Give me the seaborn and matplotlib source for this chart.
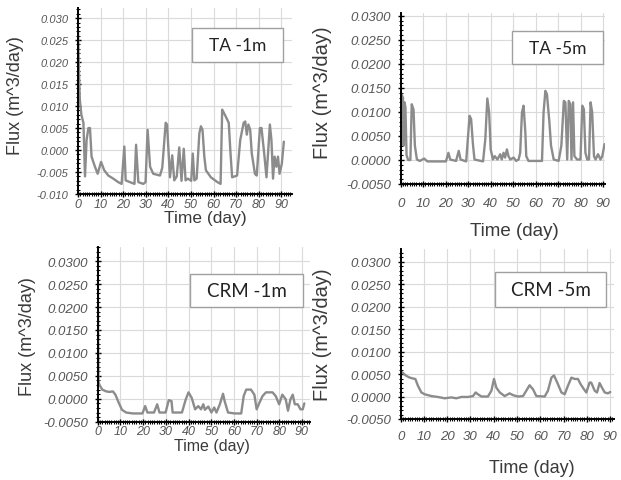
import numpy as np
import seaborn as sns
import matplotlib
matplotlib.use("Agg")
import matplotlib.pyplot as plt
from matplotlib.ticker import MultipleLocator, FuncFormatter
from matplotlib.patches import Rectangle

# ---- data (time in days, flux in m^3/day) ----
TA_1M_T = [0, 0.3, 0.8, 1.5, 2.4, 3.1, 3.8, 4.6, 5.3, 6.0, 7.5, 8.7, 10.2, 11.6,
           13.4, 15.6, 17.8, 19.3, 20.5, 21.1, 23.0, 25.0, 25.7, 26.7, 28.9,
           29.9, 30.8, 31.9, 33.3, 36.3, 37.3, 38.8, 39.4, 40.7, 41.7, 42.6,
           43.7, 44.8, 45.8, 46.8, 47.6, 48.6, 50.1, 50.8, 51.5, 52.5, 53.7,
           54.4, 55.1, 55.9, 56.6, 58.8, 61.7, 63.1, 63.8, 65.3, 66.7, 67.5,
           68.2, 70.4, 71.8, 73.3, 74.0, 74.7, 75.4, 76.2, 76.9, 78.3, 79.1,
           80.5, 81.2, 82.4, 83.4, 84.1, 84.9, 85.6, 86.3, 87.0, 87.8, 88.5,
           89.2, 90.2, 91.1]
TA_1M_Q = [0.0270, 0.0200, 0.0115, 0.0080, 0.0062, -0.0060, 0.0023, 0.0050,
           0.0050, -0.0015, -0.0038, -0.0054, -0.0027, -0.0046, -0.0058,
           -0.0065, -0.0073, -0.0077, 0.0008, -0.0069, -0.0073, -0.0077,
           0.0012, -0.0073, -0.0077, -0.0073, 0.0046, -0.0038, -0.0054,
           -0.0058, -0.0040, 0.0062, 0.0058, -0.0062, -0.0012, -0.0069,
           -0.0060, 0.0006, -0.0070, 0.0003, -0.0069, -0.0065, -0.0070,
           -0.0008, -0.0069, -0.0065, 0.0038, 0.0054, 0.0046, -0.0015,
           -0.0046, -0.0062, -0.0073, -0.0077, 0.0092, 0.0077, 0.0062,
           -0.0008, -0.0062, -0.0058, 0.0023, 0.0062, 0.0065, 0.0035, 0.0058,
           0.0046, -0.0008, -0.0054, -0.0058, 0.0050, 0.0050, -0.0008,
           -0.0062, -0.0008, 0.0058, 0.0023, -0.0065, -0.0015, -0.0038,
           -0.0015, -0.0054, -0.0031, 0.0019]

TA_5M_T = [0, 0.5, 1.0, 1.3, 1.7, 2.1, 2.6, 3.3, 4.3, 4.9, 5.7, 6.3, 7.2, 8.5,
           9.7, 10.4, 11.9, 20.1, 21.2, 22.0, 24.6, 25.8, 26.6, 29.1, 30.6,
           31.3, 32.1, 32.8, 36.6, 37.6, 38.5, 39.3, 40.0, 41.0, 41.8, 43.0,
           44.2, 44.9, 45.7, 46.4, 47.2, 47.9, 48.7, 50.2, 51.3, 52.4, 53.1,
           53.9, 54.6, 55.4, 55.8, 56.8, 62.8, 63.5, 64.3, 65.0, 66.1, 66.8,
           68.0, 70.2, 71.4, 72.5, 73.2, 74.0, 74.7, 75.4, 75.9, 76.6, 77.2,
           78.4, 79.9, 80.7, 81.4, 82.1, 82.9, 83.7, 84.4, 85.1, 85.9, 86.6,
           87.7, 88.8, 89.6, 90.6]
TA_5M_Q = [0.0140, 0.0135, 0.0130, 0.0030, 0.0120, 0.0110, 0.0010, 0.0000,
           0.0000, 0.0116, 0.0105, 0.0030, 0.0001, -0.0002, 0.0001, 0.0003,
           -0.0003, -0.0003, 0.0015, 0.0001, -0.0002, 0.0019, 0.0001,
           -0.0003, 0.0092, 0.0085, 0.0033, 0.0001, -0.0003, 0.0043, 0.0128,
           0.0099, 0.0022, 0.0001, 0.0008, 0.0001, 0.0012, 0.0001, 0.0015,
           0.0005, 0.0022, 0.0008, 0.0001, 0.0005, -0.0002, 0.0001, 0.0015,
           0.0099, 0.0113, 0.0057, 0.0008, -0.0002, -0.0002, 0.0099, 0.0144,
           0.0137, 0.0078, 0.0030, 0.0001, -0.0002, 0.0030, 0.0123, 0.0120,
           0.0001, 0.0123, 0.0116, 0.0001, 0.0120, 0.0008, 0.0001, 0.0001,
           0.0113, 0.0106, 0.0015, 0.0001, 0.0001, 0.0120, 0.0099, 0.0008,
           0.0001, 0.0012, 0.0001, 0.0008, 0.0033]

CRM_1M_T = [0, 0.3, 0.7, 2.0, 3.8, 5.2, 6.7, 7.8, 9.3, 10.7, 12.5, 15.4, 19.7,
            20.9, 21.9, 24.8, 26.2, 27.2, 29.9, 31.3, 32.5, 33.0, 37.1, 38.8,
            40.0, 41.4, 42.9, 44.3, 45.5, 46.5, 47.2, 48.7, 50.1, 51.3, 52.3,
            53.8, 55.2, 55.9, 57.4, 60.3, 63.2, 64.3, 65.4, 67.5, 69.0, 70.0,
            71.2, 72.6, 74.1, 77.0, 78.4, 79.9, 81.3, 82.8, 83.8, 84.9, 85.9,
            86.8, 88.1, 89.3, 90.3, 91.0]
CRM_1M_Q = [0.0300, 0.0040, 0.0031, 0.0020, 0.0016, 0.0015, 0.0016, 0.0009,
            -0.0009, -0.0024, -0.0030, -0.0032, -0.0032, -0.0016, -0.0030,
            -0.0030, -0.0012, -0.0030, -0.0030, -0.0003, -0.0005, -0.0030,
            -0.0030, -0.0001, 0.0014, 0.0002, -0.0023, -0.0016, -0.0023,
            -0.0012, -0.0024, -0.0017, -0.0030, -0.0019, -0.0030, -0.0012,
            0.0011, -0.0005, -0.0030, -0.0032, -0.0032, 0.0006, 0.0020,
            0.0020, 0.0009, -0.0023, -0.0009, 0.0006, 0.0014, 0.0014, 0.0006,
            -0.0012, 0.0009, -0.0001, -0.0026, -0.0001, 0.0009, -0.0012,
            -0.0012, -0.0023, -0.0023, -0.0010]

CRM_5M_T = [0, 1.0, 2.4, 3.9, 5.3, 6.3, 7.4, 8.9, 10.3, 13.2, 16.0, 18.9, 21.8,
            23.9, 26.1, 28.9, 31.1, 32.2, 33.2, 34.7, 37.5, 39.0, 40.1, 41.1,
            42.6, 44.7, 46.8, 48.3, 50.4, 52.6, 54.0, 55.4, 56.9, 58.3, 61.9,
            63.3, 64.8, 65.9, 67.3, 69.1, 70.5, 71.9, 73.4, 74.8, 76.2, 77.4,
            78.8, 79.8, 81.2, 81.9, 83.4, 84.4, 85.5, 86.5, 87.7, 89.1, 90.1]
CRM_5M_Q = [0.0057, 0.0052, 0.0046, 0.0042, 0.0040, 0.0039, 0.0024, 0.0009,
            0.0005, 0.0001, -0.0001, -0.0004, -0.0002, -0.0004, -0.0001,
            -0.0001, 0.0001, 0.0009, 0.0005, 0.0000, 0.0000, 0.0013, 0.0039,
            0.0020, 0.0009, 0.0001, 0.0007, 0.0003, 0.0000, 0.0001, 0.0013,
            0.0025, 0.0016, 0.0001, 0.0000, 0.0013, 0.0042, 0.0047, 0.0031,
            0.0009, 0.0005, 0.0024, 0.0042, 0.0039, 0.0039, 0.0027, 0.0016,
            0.0009, 0.0031, 0.0031, 0.0013, 0.0009, 0.0030, 0.0020, 0.0009,
            0.0007, 0.0010]

LABELS = ["TA -1m", "TA -5m", "CRM -1m", "CRM -5m"]
X_TICKS = [0, 10, 20, 30, 40, 50, 60, 70, 80, 90]
Y_TICKS_TA1 = [-0.010, -0.005, 0.000, 0.005, 0.010, 0.015, 0.020, 0.025, 0.030]
Y_TICKS = [-0.005, 0.000, 0.005, 0.010, 0.015, 0.020, 0.025, 0.030]

W, H = 621, 481
LINE = "#8c8c8c"
GRID = "#dadada"
TICK_TXT = "#555555"
LABEL_TXT = "#3a3a3a"

sns.set_style("white")
plt.rcParams["font.family"] = ["Liberation Sans", "DejaVu Sans"]
plt.rcParams["axes.unicode_minus"] = False


def fig_rect(left, top, right, bottom):
    return [left / W, 1 - bottom / H, (right - left) / W, (bottom - top) / H]


def draw_panel(fig, times, flux, label, cfg):
    ax = fig.add_axes(fig_rect(*cfg["rect"]))
    sns.lineplot(x=times, y=flux, ax=ax, color=LINE, linewidth=1.7,
                 estimator=None, sort=False, zorder=3)

    ax.set_xlim(*cfg["xlim"])
    ax.set_ylim(*cfg["ylim"])
    ax.set_xticks(X_TICKS)
    ax.set_yticks(cfg["yticks"])
    ax.xaxis.set_minor_locator(MultipleLocator(1))
    ax.yaxis.set_minor_locator(MultipleLocator(0.001))
    dec = cfg["dec"]
    ax.yaxis.set_major_formatter(
        FuncFormatter(lambda v, _: f"{round(v, 6) + 0.0:.{dec}f}"))

    ax.grid(True, which="major", color=GRID, linewidth=0.8, zorder=0)
    for side in ("top", "right"):
        ax.spines[side].set_visible(False)
    for side in ("left", "bottom"):
        ax.spines[side].set_color("black")
        ax.spines[side].set_linewidth(1.4)
        ax.spines[side].set_zorder(4)

    ax.tick_params(which="both", bottom=True, left=True, top=False,
                   right=False, color="black")
    ax.tick_params(which="major", direction="inout", length=4.5, width=1)
    ax.tick_params(which="minor", direction="inout", length=2.8, width=0.8)
    ax.tick_params(axis="x", which="major", pad=cfg["xpad"],
                   labelsize=cfg["xts"], labelcolor=TICK_TXT)
    ax.tick_params(axis="y", which="major", pad=cfg["ypad"],
                   labelsize=cfg["yts"], labelcolor=TICK_TXT)
    for t in ax.get_xticklabels() + ax.get_yticklabels():
        t.set_fontstyle("italic")

    ax.set_xlabel("Time (day)", fontsize=cfg["tfs"], color=LABEL_TXT)
    ax.set_ylabel("Flux (m^3/day)", fontsize=cfg["ffs"], color=LABEL_TXT)
    tx, ty = cfg["tpos"]
    fx, fy = cfg["fpos"]
    ax.xaxis.set_label_coords(tx / W, 1 - ty / H, transform=fig.transFigure)
    ax.yaxis.set_label_coords(fx / W, 1 - fy / H, transform=fig.transFigure)
    ax.xaxis.label.set_va("center")
    ax.yaxis.label.set_va("center")

    bx0, by0, bx1, by1 = cfg["box"]
    fig.add_artist(Rectangle((bx0 / W, 1 - by1 / H), (bx1 - bx0) / W,
                             (by1 - by0) / H, transform=fig.transFigure,
                             facecolor="white", edgecolor="#a0a0a0",
                             linewidth=1.0, zorder=5))
    fig.text((bx0 + bx1) / 2 / W, 1 - (by0 + by1) / 2 / H, label,
             ha="center", va="center", fontsize=cfg["bfs"], color="#222222",
             family=["Lato", "DejaVu Sans"], zorder=6)
    return ax


panel_cfg = [
    dict(rect=(78, 9, 292, 195), xlim=(0, 94.7), ylim=(-0.010, 0.0323),
         yticks=Y_TICKS_TA1, dec=3, xpad=0.5, ypad=4.5, xts=9, yts=8,
         tfs=12.5, ffs=13, tpos=(205, 219), fpos=(16, 96),
         box=(192, 29, 283, 63), bfs=12.5),
    dict(rect=(400.7, 14, 605, 185), xlim=(0, 90.8), ylim=(-0.005, 0.0306),
         yticks=Y_TICKS, dec=4, xpad=7, ypad=4.5, xts=9.5, yts=9.5,
         tfs=13.5, ffs=14.5, tpos=(514, 231), fpos=(322, 93),
         box=(512, 32, 603, 65), bfs=12.5),
    dict(rect=(97.7, 248, 310, 422.7), xlim=(0, 93.5), ylim=(-0.005, 0.0331),
         yticks=Y_TICKS, dec=4, xpad=0.3, ypad=4.5, xts=9, yts=9.5,
         tfs=11.5, ffs=13, tpos=(211.5, 446), fpos=(28, 337),
         box=(190, 275, 303, 308), bfs=13.5),
    dict(rect=(400.7, 250, 614, 420), xlim=(0, 91.7), ylim=(-0.005, 0.0328),
         yticks=Y_TICKS, dec=4, xpad=6, ypad=4.5, xts=9.5, yts=9.5,
         tfs=13, ffs=14.5, tpos=(532, 469), fpos=(323, 335),
         box=(495, 273, 606, 308), bfs=13.5),
]

series = [(TA_1M_T, TA_1M_Q), (TA_5M_T, TA_5M_Q),
          (CRM_1M_T, CRM_1M_Q), (CRM_5M_T, CRM_5M_Q)]

fig = plt.figure(figsize=(W / 100, H / 100), dpi=100)
for (t, q), label, cfg in zip(series, LABELS, panel_cfg):
    draw_panel(fig, t, q, label, cfg)

fig.savefig("out.png", dpi=100)
